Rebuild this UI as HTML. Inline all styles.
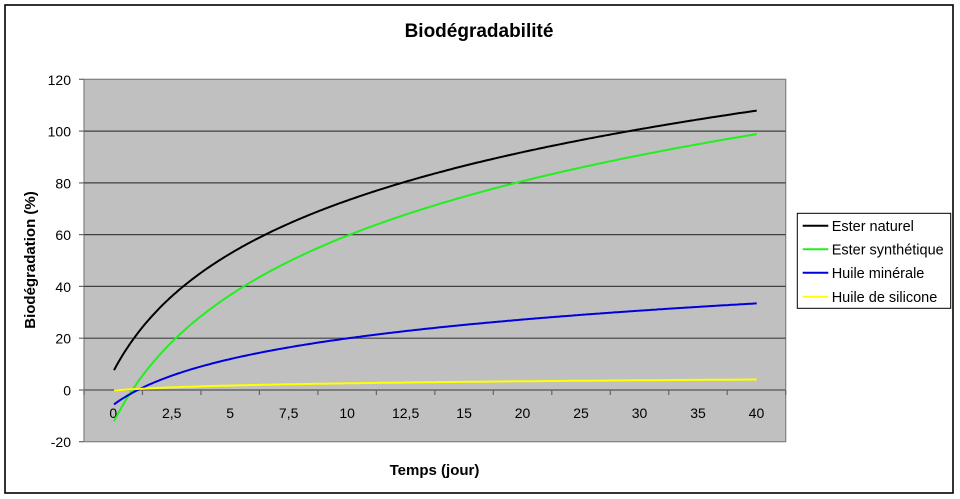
<!DOCTYPE html>
<html><head><meta charset="utf-8">
<style>
html,body{margin:0;padding:0;background:#fff;}
svg{display:block;}
text{font-family:"Liberation Sans",Arial,sans-serif;fill:#000;}
</style></head>
<body>
<svg id="s" width="960" height="499" viewBox="0 0 960 499" xmlns="http://www.w3.org/2000/svg">
<rect x="0" y="0" width="960" height="499" fill="#fff"/>
<rect x="5" y="5" width="948" height="488" fill="#fff" stroke="#000" stroke-width="1.6"/>
<text x="479" y="37" font-size="19" font-weight="bold" text-anchor="middle">Biodégradabilité</text>
<!-- plot area -->
<rect x="84" y="79.3" width="701.7" height="362.4" fill="#c0c0c0" stroke="#808080" stroke-width="1.2"/>
<g stroke="#404040" stroke-width="1.2">
<line x1="84" y1="131.1" x2="785.7" y2="131.1"/>
<line x1="84" y1="182.9" x2="785.7" y2="182.9"/>
<line x1="84" y1="234.6" x2="785.7" y2="234.6"/>
<line x1="84" y1="286.4" x2="785.7" y2="286.4"/>
<line x1="84" y1="338.2" x2="785.7" y2="338.2"/>
</g>
<line x1="84" y1="390" x2="785.7" y2="390" stroke="#666" stroke-width="1.4"/>
<g stroke="#666" stroke-width="1.2" id="yt">
<line x1="79" y1="79.3" x2="84" y2="79.3"/>
<line x1="79" y1="131.1" x2="84" y2="131.1"/>
<line x1="79" y1="182.9" x2="84" y2="182.9"/>
<line x1="79" y1="234.6" x2="84" y2="234.6"/>
<line x1="79" y1="286.4" x2="84" y2="286.4"/>
<line x1="79" y1="338.2" x2="84" y2="338.2"/>
<line x1="79" y1="390" x2="84" y2="390"/>
<line x1="79" y1="441.7" x2="84" y2="441.7"/>
</g>
<g id="xt" stroke="#666" stroke-width="1.2"></g>
<g font-size="14" text-anchor="end">
<text x="71" y="85">120</text>
<text x="71" y="136.5">100</text>
<text x="71" y="188.3">80</text>
<text x="71" y="240">60</text>
<text x="71" y="291.8">40</text>
<text x="71" y="343.6">20</text>
<text x="71" y="395.4">0</text>
<text x="71" y="447.1">-20</text>
</g>
<g id="xl" font-size="14" text-anchor="middle"></g>
<text x="434.5" y="475" font-size="15" font-weight="bold" text-anchor="middle">Temps (jour)</text>
<text transform="translate(35,260) rotate(-90)" font-size="15" font-weight="bold" text-anchor="middle">Biodégradation (%)</text>
<path id="pk" fill="none" stroke="#000" stroke-width="2"/>
<path id="pg" fill="none" stroke="#22ee22" stroke-width="2"/>
<path id="pb" fill="none" stroke="#0000dd" stroke-width="2"/>
<path id="py" fill="none" stroke="#ffff00" stroke-width="2"/>
<!-- legend -->
<rect x="797.3" y="213.3" width="153.4" height="95" fill="#fff" stroke="#000" stroke-width="1"/>
<line x1="802.7" y1="225.7" x2="828.3" y2="225.7" stroke="#000" stroke-width="2"/>
<line x1="802.7" y1="249.3" x2="828.3" y2="249.3" stroke="#22ee22" stroke-width="2"/>
<line x1="802.7" y1="272.7" x2="828.3" y2="272.7" stroke="#0000dd" stroke-width="2"/>
<line x1="802.7" y1="296.7" x2="828.3" y2="296.7" stroke="#ffff00" stroke-width="2"/>
<g font-size="14.5">
<text x="831.7" y="230.8">Ester naturel</text>
<text x="831.7" y="254.4">Ester synthétique</text>
<text x="831.7" y="277.8">Huile minérale</text>
<text x="831.7" y="301.8">Huile de silicone</text>
</g>
</svg>
<script>
(function(){
var NS="http://www.w3.org/2000/svg";
var xt=document.getElementById('xt'), xl=document.getElementById('xl');
var labels=["0","2,5","5","7,5","10","12,5","15","20","25","30","35","40"];
var w=701.7/12;
for(var k=0;k<=12;k++){
 var l=document.createElementNS(NS,'line');
 var x=84+w*k;
 l.setAttribute('x1',x);l.setAttribute('x2',x);l.setAttribute('y1',390);l.setAttribute('y2',395);
 xt.appendChild(l);
}
for(var i=0;i<12;i++){
 var t=document.createElementNS(NS,'text');
 t.setAttribute('x',84+w*(i+0.5));t.setAttribute('y',418);
 t.textContent=labels[i];xl.appendChild(t);
}
function mk(id,f){
 var d="";
 for(var x=114;x<=756.7;x+=2){
  var xx=Math.min(x,756.7);
  d+=(d?"L":"M")+xx.toFixed(1)+","+f(xx).toFixed(1);
 }
 d+="L756.7,"+f(756.7).toFixed(1);
 document.getElementById(id).setAttribute('d',d);
}
mk('pk',function(x){return 285-101.5*(Math.log(x-60)-4.828);});
mk('pg',function(x){return 286.7-116*(Math.log(x-55)-5.238);});
mk('pb',function(x){return 352.7-39.5*(Math.log(x-60)-5.298);});
mk('py',function(x){return 390.5-4.3*(Math.log(x-60)-3.989);});
})();
</script>
</body></html>
